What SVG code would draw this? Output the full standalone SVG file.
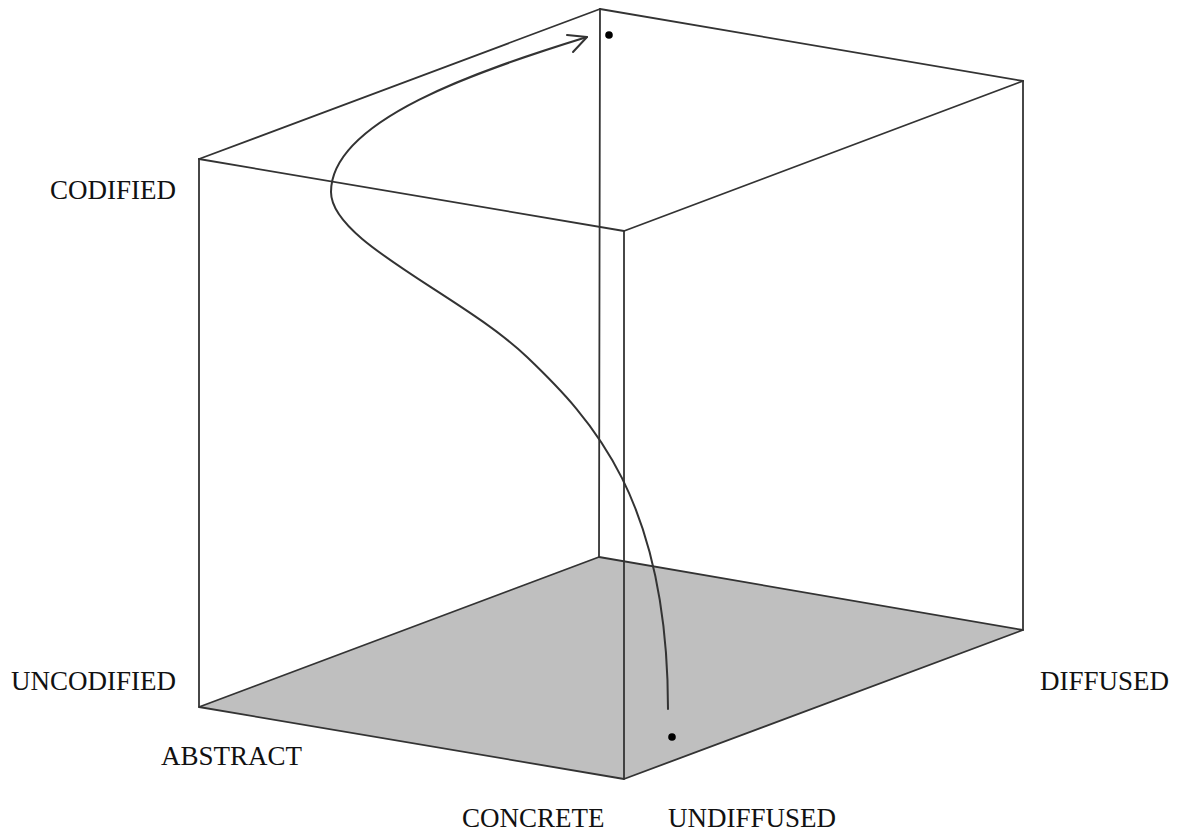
<svg xmlns="http://www.w3.org/2000/svg" width="1180" height="831" viewBox="0 0 1180 831">
<style>
.edge{stroke:#333;stroke-width:1.8;fill:none;stroke-linecap:round;stroke-linejoin:round}
.floor{fill:#bfbfbf;stroke:#333;stroke-width:1.8;stroke-linejoin:round}
.curve{stroke:#333;stroke-width:2;fill:none;stroke-linecap:round;stroke-linejoin:round}
.lbl{font-family:"Liberation Serif","Times New Roman",serif;font-size:27px;fill:#111}
.dot{fill:#000}
</style>
<rect width="1180" height="831" fill="#fff"/>
<g id="cube">
<polygon class="floor" points="199,707 599,557 1023,630 624,779"/>
<line class="edge" x1="199" y1="159" x2="600" y2="9"/>
<line class="edge" x1="600" y1="9" x2="1023" y2="81"/>
<line class="edge" x1="1023" y1="81" x2="624" y2="231"/>
<line class="edge" x1="624" y1="231" x2="199" y2="159"/>
<line class="edge" x1="199" y1="159" x2="199" y2="707"/>
<line class="edge" x1="600" y1="9" x2="599" y2="557"/>
<line class="edge" x1="1023" y1="81" x2="1023" y2="630"/>
<line class="edge" x1="624" y1="231" x2="624" y2="779"/>
</g>
<g id="connectors">
<path class="curve" d="M668,709 C668,500 592,419 527,357 C462,295 331,242 331,192 C331,120 480,70 587,37"/>
<polyline class="curve" points="567,35 587,37 573,52"/>
</g>
<g id="points">
<circle class="dot" cx="609" cy="35" r="3.8"/>
<circle class="dot" cx="672" cy="737" r="3.8"/>
</g>
<g id="labels">
<text class="lbl" x="176" y="199" text-anchor="end">CODIFIED</text>
<text class="lbl" x="176" y="690" text-anchor="end">UNCODIFIED</text>
<text class="lbl" x="161" y="765">ABSTRACT</text>
<text class="lbl" x="1040" y="690">DIFFUSED</text>
<text class="lbl" x="462" y="827">CONCRETE</text>
<text class="lbl" x="668" y="827">UNDIFFUSED</text>
</g>
</svg>
